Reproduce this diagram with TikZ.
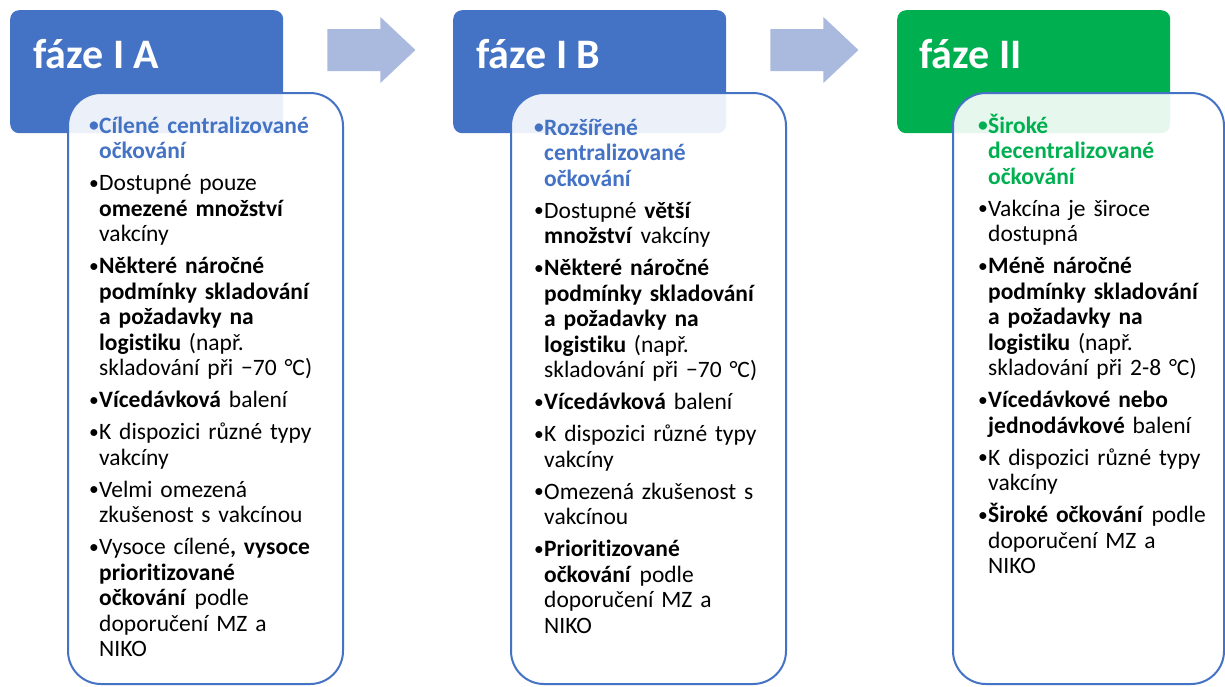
\documentclass[tikz,border=0pt]{standalone}
\usepackage{fontspec}
\setmainfont{Carlito}[Ligatures=NoCommon]
\usepackage{xcolor}
\usepackage{tikz}
\usetikzlibrary{positioning}
\definecolor{phblue}{RGB}{68,114,196}
\definecolor{phgreen}{RGB}{0,176,80}
\definecolor{arrowfill}{RGB}{170,185,222}
\newcommand{\bdot}{\makebox[11pt][l]{\hspace{1pt}\raisebox{1.2pt}{\fontsize{19.5}{19.5}\selectfont\textbullet}}}
\newcommand{\bhead}[2]{\hangindent=11pt\hangafter=1\noindent{\color{#1}\bfseries\bdot#2}\par}
\newcommand{\bitem}[1]{\vskip6.5pt\hangindent=11pt\hangafter=1\noindent\bdot#1\par}
\tikzset{phasebox/.style={rectangle, rounded corners=9pt, anchor=north west,
           minimum width=273pt, minimum height=123pt, inner sep=0pt},
         phasetitle/.style={anchor=base west, inner sep=0pt, text=white,
           font=\fontsize{42}{50}\selectfont\bfseries},
         bodybox/.style={rectangle, rounded corners=33pt, anchor=north west,
           draw=phblue, line width=2pt, fill=white, fill opacity=0.9,
           minimum width=275pt, minimum height=591pt, inner sep=0pt},
         bodytext/.style={anchor=base west, inner sep=0pt, text width=250pt,
           align=left, font=\fontsize{23.5}{25.5}\selectfont},
         phasearrow/.style={fill=arrowfill}}

\begin{document}
\begin{tikzpicture}[x=1pt, y=-1pt]
\useasboundingbox (0,0) rectangle (1225,686);
% phase headers
\node[phasebox, fill=phblue] (phA) at (10,10) {};
\node[phasebox, fill=phblue] (phB) at (453,10) {};
\node[phasebox, fill=phgreen] (phII) at (897,10) {};
\node[phasetitle] (tA) at ([shift={(23,58)}]phA.north west) {fáze I A};
\node[phasetitle] (tB) at ([shift={(23,58)}]phB.north west) {fáze I B};
\node[phasetitle] (tII) at ([shift={(22,58)}]phII.north west) {fáze II};
% arrows between phases
\foreach \a in {phA,phB}
  \fill[phasearrow] ([shift={(44,19)}]\a.north east) -- ++(53,0) -- ++(0,-12)
    -- ++(35,33) -- ++(-35,33) -- ++(0,-12) -- ++(-53,0) -- cycle;
% content boxes
\node[bodybox] (boxA) at (67,92) {};
\node[bodybox] (boxB) at (510,92) {};
\node[bodybox, minimum width=271pt] (boxII) at (952,92) {};
\node[bodytext] (txtA) at ([shift={(21,41)}]boxA.north west) {%
\bhead{phblue}{Cílené centralizované\newline očkování}
\bitem{Dostupné pouze\newline \textbf{omezené množství}\newline vakcíny}
\bitem{\textbf{Některé náročné\newline podmínky skladování\newline a požadavky na\newline logistiku} (např.\newline skladování při −70 °C)}
\bitem{\textbf{Vícedávková} balení}
\bitem{K dispozici různé typy\newline vakcíny}
\bitem{Velmi omezená\newline zkušenost s vakcínou}
\bitem{Vysoce cílené\textbf{, vysoce\newline prioritizované\newline očkování} podle\newline doporučení MZ a\newline NIKO}};
\node[bodytext] (txtB) at ([shift={(23,43)}]boxB.north west) {%
\bhead{phblue}{Rozšířené\newline centralizované\newline očkování}
\bitem{Dostupné \textbf{větší\newline množství} vakcíny}
\bitem{\textbf{Některé náročné\newline podmínky skladování\newline a požadavky na\newline logistiku} (např.\newline skladování při −70 °C)}
\bitem{\textbf{Vícedávková} balení}
\bitem{K dispozici různé typy\newline vakcíny}
\bitem{Omezená zkušenost s\newline vakcínou}
\bitem{\textbf{Prioritizované\newline očkování} podle\newline doporučení MZ a\newline NIKO}};
\node[bodytext] (txtII) at ([shift={(25,41)}]boxII.north west) {%
\bhead{phgreen}{Široké\newline decentralizované\newline očkování}
\bitem{Vakcína je široce\newline dostupná}
\bitem{\textbf{Méně náročné\newline podmínky skladování\newline a požadavky na\newline logistiku} (např.\newline skladování při 2-8 °C)}
\bitem{\textbf{Vícedávkové nebo\newline jednodávkové} balení}
\bitem{K dispozici různé typy\newline vakcíny}
\bitem{\textbf{Široké očkování} podle\newline doporučení MZ a\newline NIKO}};
\end{tikzpicture}
\end{document}
